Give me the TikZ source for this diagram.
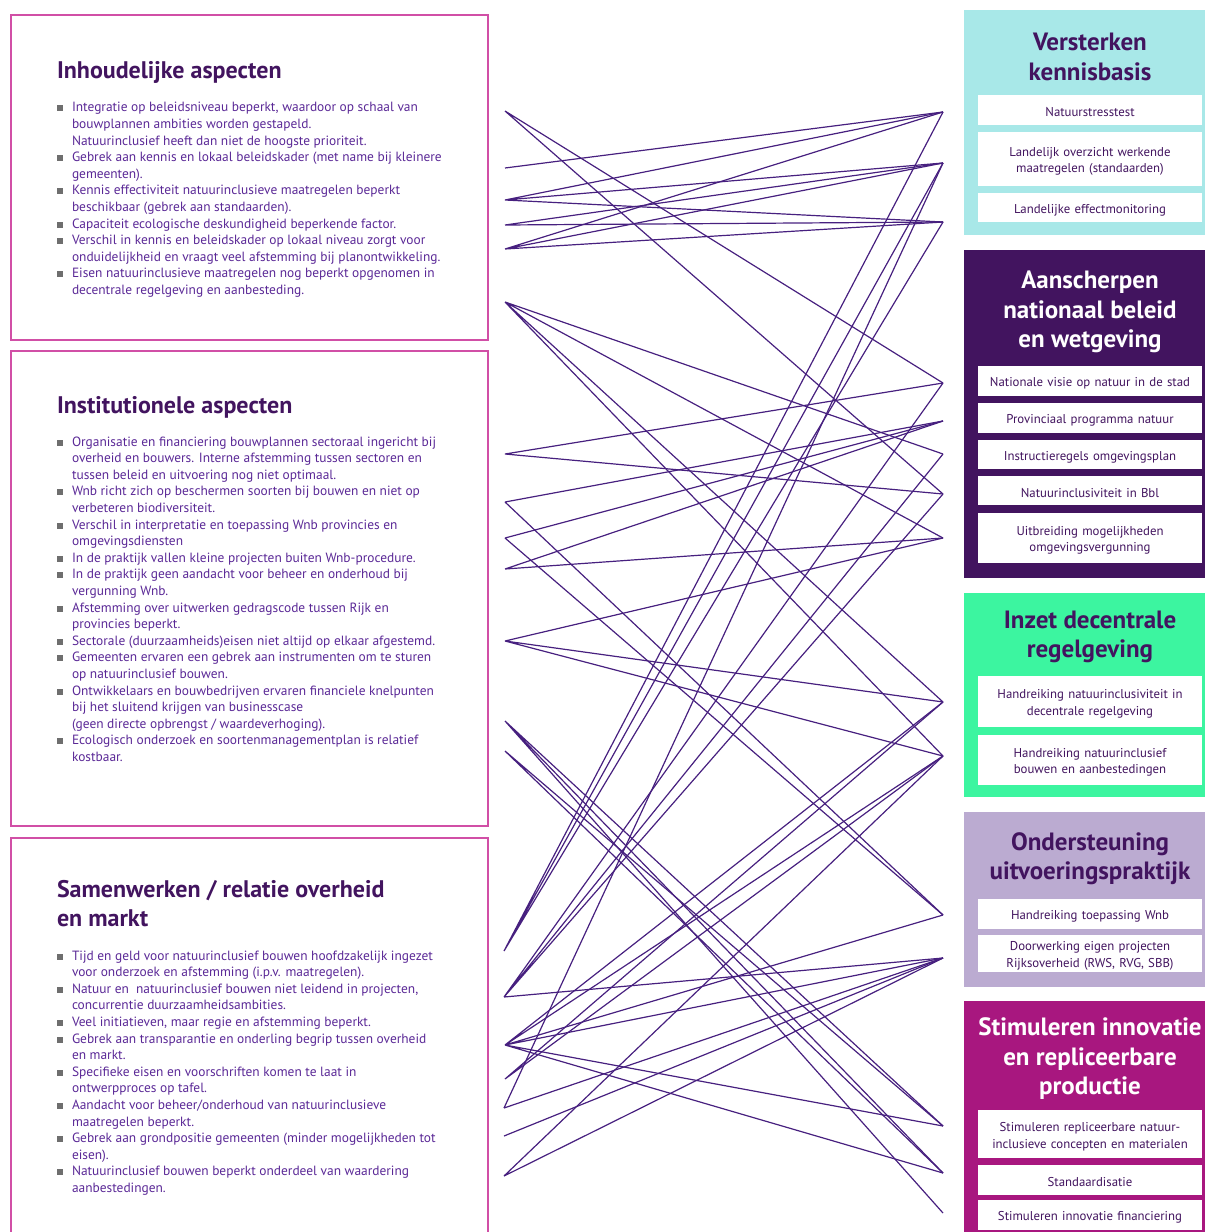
\documentclass[tikz,border=0pt]{standalone}
\usepackage{fontspec}
\setmainfont{PT Sans}
\usepackage{xcolor}
\usetikzlibrary{positioning}

\definecolor{rodark}{HTML}{42145F}
\definecolor{robody}{HTML}{5A2896}
\definecolor{roframe}{HTML}{D14FA6}
\definecolor{rocyan}{HTML}{A8E8E8}
\definecolor{rogreen}{HTML}{3CF5A0}
\definecolor{rolilac}{HTML}{BBABD1}
\definecolor{romagenta}{HTML}{A8177F}
\definecolor{rolink}{HTML}{47207F}
\definecolor{bulgrey}{HTML}{6E6E6E}

\newcommand{\bulsq}{\makebox[15pt][l]{\textcolor{bulgrey}{\rule[0.5pt]{6pt}{6pt}}}}
\newcommand{\bulin}{\hspace*{15pt}}

\begin{document}
\begin{tikzpicture}[x=1pt,y=-1pt,
	  every node/.style={inner sep=0pt,outer sep=0pt},
	  aspectbox/.style={draw=roframe,line width=1.2pt,anchor=north west,minimum width=477pt},
	  aspecttitle/.style={anchor=base west,align=left,text=rodark,font=\fontsize{24}{29}\selectfont\bfseries},
	  aspectlist/.style={anchor=north west,align=left,text=robody,font=\fontsize{13.4}{16.6}\selectfont},
	  panel/.style={anchor=north west,minimum width=241pt},
	  paneltitle/.style={anchor=base,align=center,font=\fontsize{25}{29.5}\selectfont\bfseries},
	  measure/.style={fill=white,minimum width=224pt,text width=218pt,align=center,text=rodark,
	    font=\fontsize{12.8}{16.6}\selectfont,execute at begin node={\rule{0pt}{14pt}}},
	  link/.style={draw=rolink,line width=1.2pt}]

	  \useasboundingbox (0,0) rectangle (1205,1232);

	  % problem boxes on the left
	  \node[aspectbox,minimum height=325pt] (inhoud) at (11,15) {};
	  \node[aspectbox,minimum height=475pt] (instit) at (11,351) {};
	  \node[aspectbox,minimum height=420pt] (samen) at (11,838) {};

	  \node[aspecttitle] (inhoudtitle) at (57,78.5) {Inhoudelijke aspecten};
	  \node[aspectlist] (inhoudlist) at (57,102.5) {%
	    \bulsq Integratie op beleidsniveau beperkt, waardoor op schaal van\\
	    \bulin bouwplannen ambities worden gestapeld.\\
	    \bulin Natuurinclusief heeft dan niet de hoogste prioriteit.\\
	    \bulsq Gebrek aan kennis en lokaal beleidskader (met name bij kleinere\\
	    \bulin gemeenten).\\
	    \bulsq Kennis effectiviteit natuurinclusieve maatregelen beperkt\\
	    \bulin beschikbaar (gebrek aan standaarden).\\
	    \bulsq Capaciteit ecologische deskundigheid beperkende factor.\\
	    \bulsq Verschil in kennis en beleidskader op lokaal niveau zorgt voor\\
	    \bulin onduidelijkheid en vraagt veel afstemming bij planontwikkeling.\\
	    \bulsq Eisen natuurinclusieve maatregelen nog beperkt opgenomen in\\
	    \bulin decentrale regelgeving en aanbesteding.};

	  \node[aspecttitle] (instittitle) at (57,413.5) {Institutionele aspecten};
	  \node[aspectlist] (institlist) at (57,436.5) {%
	    \bulsq Organisatie en financiering bouwplannen sectoraal ingericht bij\\
	    \bulin overheid en bouwers. Interne afstemming tussen sectoren en\\
	    \bulin tussen beleid en uitvoering nog niet optimaal.\\
	    \bulsq Wnb richt zich op beschermen soorten bij bouwen en niet op\\
	    \bulin verbeteren biodiversiteit.\\
	    \bulsq Verschil in interpretatie en toepassing Wnb provincies en\\
	    \bulin omgevingsdiensten\\
	    \bulsq In de praktijk vallen kleine projecten buiten Wnb-procedure.\\
	    \bulsq In de praktijk geen aandacht voor beheer en onderhoud bij\\
	    \bulin vergunning Wnb.\\
	    \bulsq Afstemming over uitwerken gedragscode tussen Rijk en\\
	    \bulin provincies beperkt.\\
	    \bulsq Sectorale (duurzaamheids)eisen niet altijd op elkaar afgestemd.\\
	    \bulsq Gemeenten ervaren een gebrek aan instrumenten om te sturen\\
	    \bulin op natuurinclusief bouwen.\\
	    \bulsq Ontwikkelaars en bouwbedrijven ervaren financiele knelpunten\\
	    \bulin bij het sluitend krijgen van businesscase\\
	    \bulin (geen directe opbrengst / waardeverhoging).\\
	    \bulsq Ecologisch onderzoek en soortenmanagementplan is relatief\\
	    \bulin kostbaar.};

	  % the base of a two line title is its last line
	  \node[aspecttitle] (samentitle) at (57,926.5) {Samenwerken / relatie overheid\\en markt};
	  \node[aspectlist] (samenlist) at (57,950.5) {%
	    \bulsq Tijd en geld voor natuurinclusief bouwen hoofdzakelijk ingezet\\
	    \bulin voor onderzoek en afstemming (i.p.v. maatregelen).\\
	    \bulsq Natuur en\ \ natuurinclusief bouwen niet leidend in projecten,\\
	    \bulin concurrentie duurzaamheidsambities.\\
	    \bulsq Veel initiatieven, maar regie en afstemming beperkt.\\
	    \bulsq Gebrek aan transparantie en onderling begrip tussen overheid\\
	    \bulin en markt.\\
	    \bulsq Specifieke eisen en voorschriften komen te laat in\\
	    \bulin ontwerpproces op tafel.\\
	    \bulsq Aandacht voor beheer/onderhoud van natuurinclusieve\\
	    \bulin maatregelen beperkt.\\
	    \bulsq Gebrek aan grondpositie gemeenten (minder mogelijkheden tot\\
	    \bulin eisen).\\
	    \bulsq Natuurinclusief bouwen beperkt onderdeel van waardering\\
	    \bulin aanbestedingen.};

	  % measure panels on the right
	  \node[panel,fill=rocyan,minimum height=225pt] (kennis) at (964,10) {};
	  \node[panel,fill=rodark,minimum height=328pt] (beleid) at (964,250) {};
	  \node[panel,fill=rogreen,minimum height=204pt] (decentraal) at (964,593) {};
	  \node[panel,fill=rolilac,minimum height=175pt] (praktijk) at (964,812) {};
	  \node[panel,fill=romagenta,minimum height=240pt] (innovatie) at (964,1001) {};

	  \node[paneltitle,text=rodark] (kennistitle) at (1090,80) {Versterken\\kennisbasis};
	  \node[paneltitle,text=white] (beleidtitle) at (1090,347.5) {Aanscherpen\\nationaal beleid\\en wetgeving};
	  \node[paneltitle,text=rodark] (decentraaltitle) at (1090,657.5) {Inzet decentrale\\regelgeving};
	  \node[paneltitle,text=rodark] (praktijktitle) at (1090,879.5) {Ondersteuning\\uitvoeringspraktijk};
	  \node[paneltitle,text=white] (innovatietitle) at (1090,1094.5) {Stimuleren innovatie\\en repliceerbare\\productie};

	  \node[measure,minimum height=30pt] (stresstest) at (1090,110) {Natuurstresstest};
	  \node[measure,minimum height=54pt] (overzicht) at (1090,159) {Landelijk overzicht werkende\\maatregelen (standaarden)};
	  \node[measure,minimum height=29pt] (monitoring) at (1090,207.5) {Landelijke effectmonitoring};

	  \node[measure,minimum height=30pt] (visie) at (1090,381) {Nationale visie op natuur in de stad};
	  \node[measure,minimum height=30pt] (programma) at (1090,418) {Provinciaal programma natuur};
	  \node[measure,minimum height=29pt] (instructie) at (1090,454.5) {Instructieregels omgevingsplan};
	  \node[measure,minimum height=29pt] (bbl) at (1090,490.5) {Natuurinclusiviteit in Bbl};
	  \node[measure,minimum height=50pt] (vergunning) at (1090,538) {Uitbreiding mogelijkheden\\omgevingsvergunning};

	  \node[measure,minimum height=51pt] (handregel) at (1090,701.5) {Handreiking natuurinclusiviteit in\\decentrale regelgeving};
	  \node[measure,minimum height=50pt] (handbouw) at (1090,760) {Handreiking natuurinclusief\\bouwen en aanbestedingen};

	  \node[measure,minimum height=30pt] (handwnb) at (1090,914) {Handreiking toepassing Wnb};
	  \node[measure,minimum height=37pt] (doorwerking) at (1090,953.5) {Doorwerking eigen projecten\\Rijksoverheid (RWS, RVG, SBB)};

	  \node[measure,minimum height=48pt] (concepten) at (1090,1134) {Stimuleren repliceerbare natuur-\\inclusieve concepten en materialen};
	  \node[measure,minimum height=30pt] (standaard) at (1090,1180) {Standaardisatie};
	  \node[measure,minimum height=30pt] (financiering) at (1090,1215) {Stimuleren innovatie financiering};

	  % end points of the links
	  \coordinate (in1) at (505,111);  \coordinate (in2) at (505,168);
	  \coordinate (in3) at (505,200);  \coordinate (in4) at (505,225);
	  \coordinate (in5) at (505,249);  \coordinate (in6) at (505,302);
	  \coordinate (is1) at (505,454);  \coordinate (is2) at (505,502);
	  \coordinate (is3) at (505,538);  \coordinate (is4) at (505,569);
	  \coordinate (is5) at (505,641);  \coordinate (is6) at (505,721);
	  \coordinate (is7) at (505,751);
	  \coordinate (sm1) at (504,951);  \coordinate (sm2) at (504,997);
	  \coordinate (sm3) at (505,1045); \coordinate (sm4) at (505,1079);
	  \coordinate (sm5) at (504,1108); \coordinate (sm6) at (504,1136);
	  \coordinate (sm7) at (504,1176);

	  \coordinate (vk1) at (943,112);  \coordinate (vk2) at (943,163);
	  \coordinate (vk3) at (943,222);
	  \coordinate (an1) at (943,383);  \coordinate (an2) at (943,421);
	  \coordinate (an3) at (943,454);  \coordinate (an4) at (943,494);
	  \coordinate (an5) at (943,538);
	  \coordinate (id1) at (943,702);  \coordinate (id2) at (943,756);
	  \coordinate (ou1) at (943,915);  \coordinate (ou2) at (943,958);
	  \coordinate (st1) at (943,1126); \coordinate (st2) at (943,1173);
	  \coordinate (st3) at (943,1213);

	  % links
	  \draw[link] (in1) -- (an1) (in1) -- (an4);
	  \draw[link] (in2) -- (vk1);
	  \draw[link] (in3) -- (vk1) (in3) -- (vk2) (in3) -- (vk3);
	  \draw[link] (in4) -- (vk2) (in4) -- (vk3);
	  \draw[link] (in5) -- (vk1) (in5) -- (vk2) (in5) -- (vk3);
	  \draw[link] (in6) -- (an3) (in6) -- (an5) (in6) -- (id1) (in6) -- (id2);

	  \draw[link] (is1) -- (an1) (is1) -- (an4);
	  \draw[link] (is2) -- (an2) (is2) -- (ou1);
	  \draw[link] (is3) -- (an2) (is3) -- (ou1);
	  \draw[link] (is4) -- (an2) (is4) -- (an5);
	  \draw[link] (is5) -- (an5) (is5) -- (id1) (is5) -- (id2);
	  \draw[link] (is6) -- (st1) (is6) -- (st2) (is6) -- (st3);
	  \draw[link] (is7) -- (st1) (is7) -- (st2);

	  \draw[link] (sm1) -- (vk1) (sm1) -- (vk2) (sm1) -- (vk3);
	  \draw[link] (sm2) -- (an1) (sm2) -- (an3) (sm2) -- (an4) (sm2) -- (ou2);
	  \draw[link] (sm3) -- (id1) (sm3) -- (id2) (sm3) -- (ou1) (sm3) -- (ou2)
	              (sm3) -- (st1) (sm3) -- (st2);
	  \draw[link] (sm4) -- (id1) (sm4) -- (id2);
	  \draw[link] (sm5) -- (vk2) (sm5) -- (ou2);
	  \draw[link] (sm6) -- (ou2);
	  \draw[link] (sm7) -- (id2) (sm7) -- (ou2);
\end{tikzpicture}
\end{document}
